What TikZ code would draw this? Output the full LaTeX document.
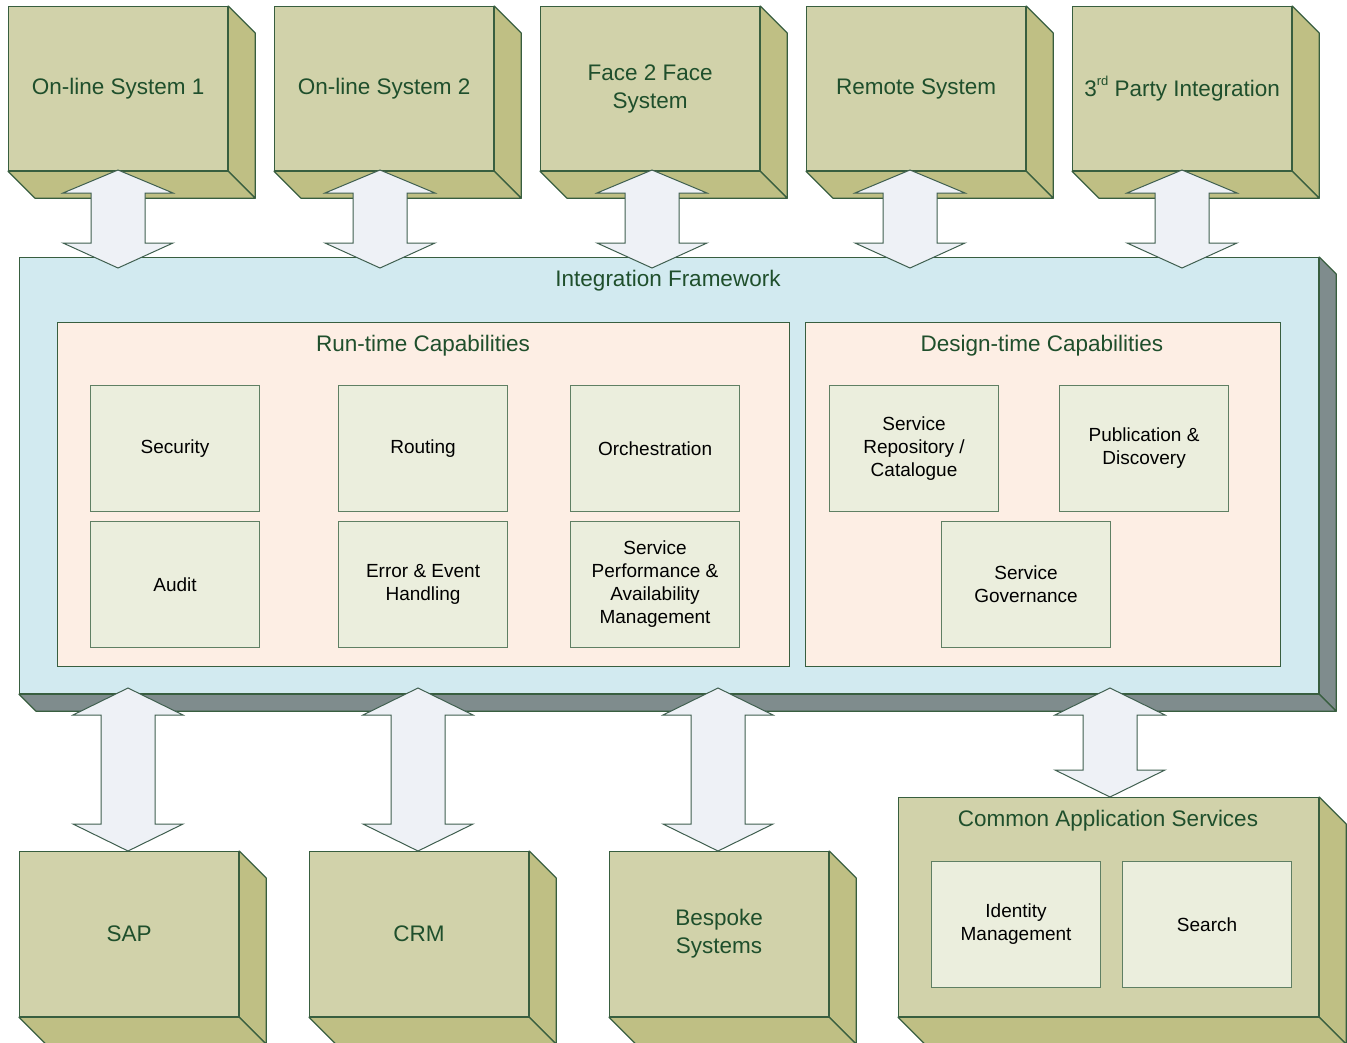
\documentclass[tikz,border=0pt]{standalone}
\usepackage{fontspec}
\setmainfont{Liberation Sans}
\usetikzlibrary{calc}
\definecolor{olf}{HTML}{D1D2AA}
\definecolor{ols}{HTML}{BFBF84}
\definecolor{edge}{HTML}{385E3F}
\definecolor{tgreen}{HTML}{1F4F2C}
\definecolor{fwf}{HTML}{D2EAF0}
\definecolor{fws}{HTML}{7F8C8D}
\definecolor{peach}{HTML}{FDEEE4}
\definecolor{inf}{HTML}{EBEEDD}
\definecolor{iedge}{HTML}{5F7F63}
\definecolor{arf}{HTML}{EEF1F6}
\definecolor{aredge}{HTML}{3F5F4F}
\newcommand\tfnt{\fontsize{22.5}{28}\selectfont}
\newcommand\ifnt{\fontsize{19}{23}\selectfont}
\newcommand\mycube[9]{%
  \node[#1, minimum width=#6pt, minimum height=#7pt, anchor=north west] (#3) at (#4,#5) {#9};
  \draw[#2] (#3.north east) -- ++(#8,#8) -- ($(#3.south east)+(#8,#8)$) -- (#3.south east) -- cycle;
  \draw[#2] (#3.south west) -- (#3.south east) -- ++(#8,#8) -- ($(#3.south west)+(#8,#8)$) -- cycle;
}
\newcommand\dbl[5]{%
  \draw[arr] (#1,#2) -- (#1+55,#3) -- (#1+27,#3) -- (#1+27,#4) -- (#1+55,#4) -- (#1,#5)
    -- (#1-55,#4) -- (#1-27,#4) -- (#1-27,#3) -- (#1-55,#3) -- cycle;
}
\begin{document}
\begin{tikzpicture}[x=1pt,y=-1pt,
  front/.style={draw=edge, fill=olf, line width=1.2pt, inner sep=0pt, align=center, text=tgreen, font=\tfnt},
  side/.style={draw=edge, fill=ols, line width=1.2pt, line join=round},
  fwfront/.style={draw=edge, fill=fwf, line width=1.2pt, inner sep=0pt},
  fwside/.style={draw=edge, fill=fws, line width=1.2pt, line join=round},
  panel/.style={draw=edge, fill=peach, line width=1.2pt, inner sep=0pt, anchor=north west},
  inbox/.style={draw=iedge, fill=inf, line width=1.1pt, inner sep=0pt, align=center, font=\ifnt,
    minimum width=169pt, minimum height=126pt, anchor=north west},
  title/.style={text=tgreen, font=\tfnt, inner sep=0pt, anchor=base},
  arr/.style={draw=aredge, fill=arf, line width=1pt, line join=miter}]
\useasboundingbox (0,0) rectangle (1347,1042);
% top systems
\mycube{front}{side}{s1}{8}{6}{219}{164}{27}{On-line System 1}
\mycube{front}{side}{s2}{274}{6}{219}{164}{27}{On-line System 2}
\mycube{front}{side}{s3}{540}{6}{219}{164}{27}{Face 2 Face\\System}
\mycube{front}{side}{s4}{806}{6}{219}{164}{27}{Remote System}
\mycube{front}{side}{s5}{1072}{6}{219}{164}{27}{3\raisebox{0.5em}{\fontsize{13}{13}\selectfont rd} Party Integration}
% framework
\mycube{fwfront}{fwside}{fw}{19}{257}{1299}{436}{17}{}
\node[title] (fwt) at (668,286) {Integration Framework};
% panels
\node[panel, minimum width=732pt, minimum height=344pt] (rt) at (57,322) {};
\node[title] (rtt) at (423,351) {Run-time Capabilities};
\node[panel, minimum width=475pt, minimum height=344pt] (dt) at (805,322) {};
\node[title] (dtt) at (1042,351) {Design-time Capabilities};
% run-time boxes
\node[inbox] (sec) at (90,385) {Security};
\node[inbox] (rou) at (338,385) {Routing};
\node[inbox] (orc) at (570,385) {Orchestration};
\node[inbox] (aud) at (90,521) {Audit};
\node[inbox] (err) at (338,521) {Error \& Event\\Handling};
\node[inbox] (spa) at (570,521) {Service\\Performance \&\\Availability\\Management};
% design-time boxes
\node[inbox] (rep) at (829,385) {Service\\Repository /\\Catalogue};
\node[inbox] (pub) at (1059,385) {Publication \&\\Discovery};
\node[inbox] (gov) at (941,521) {Service\\Governance};
% bottom systems
\mycube{front}{side}{sap}{19}{851}{219}{165}{27}{SAP}
\mycube{front}{side}{crm}{309}{851}{219}{165}{27}{CRM}
\mycube{front}{side}{bes}{609}{851}{219}{165}{27}{Bespoke\\Systems}
\mycube{front}{side}{cas}{898}{797}{420}{219}{27}{}
\node[title] (cast) at (1108,826) {Common Application Services};
\node[inbox] (idm) at (931,861) {Identity\\Management};
\node[inbox] (sea) at (1122,861) {Search};
% arrows
\dbl{118}{170}{193}{243}{268}
\dbl{380}{170}{193}{243}{268}
\dbl{652}{170}{193}{243}{268}
\dbl{910}{170}{193}{243}{268}
\dbl{1182}{170}{193}{243}{268}
\dbl{128}{688}{715}{824}{851}
\dbl{418}{688}{715}{824}{851}
\dbl{718}{688}{715}{824}{851}
\dbl{1110}{688}{715}{770}{797}
\end{tikzpicture}
\end{document}
